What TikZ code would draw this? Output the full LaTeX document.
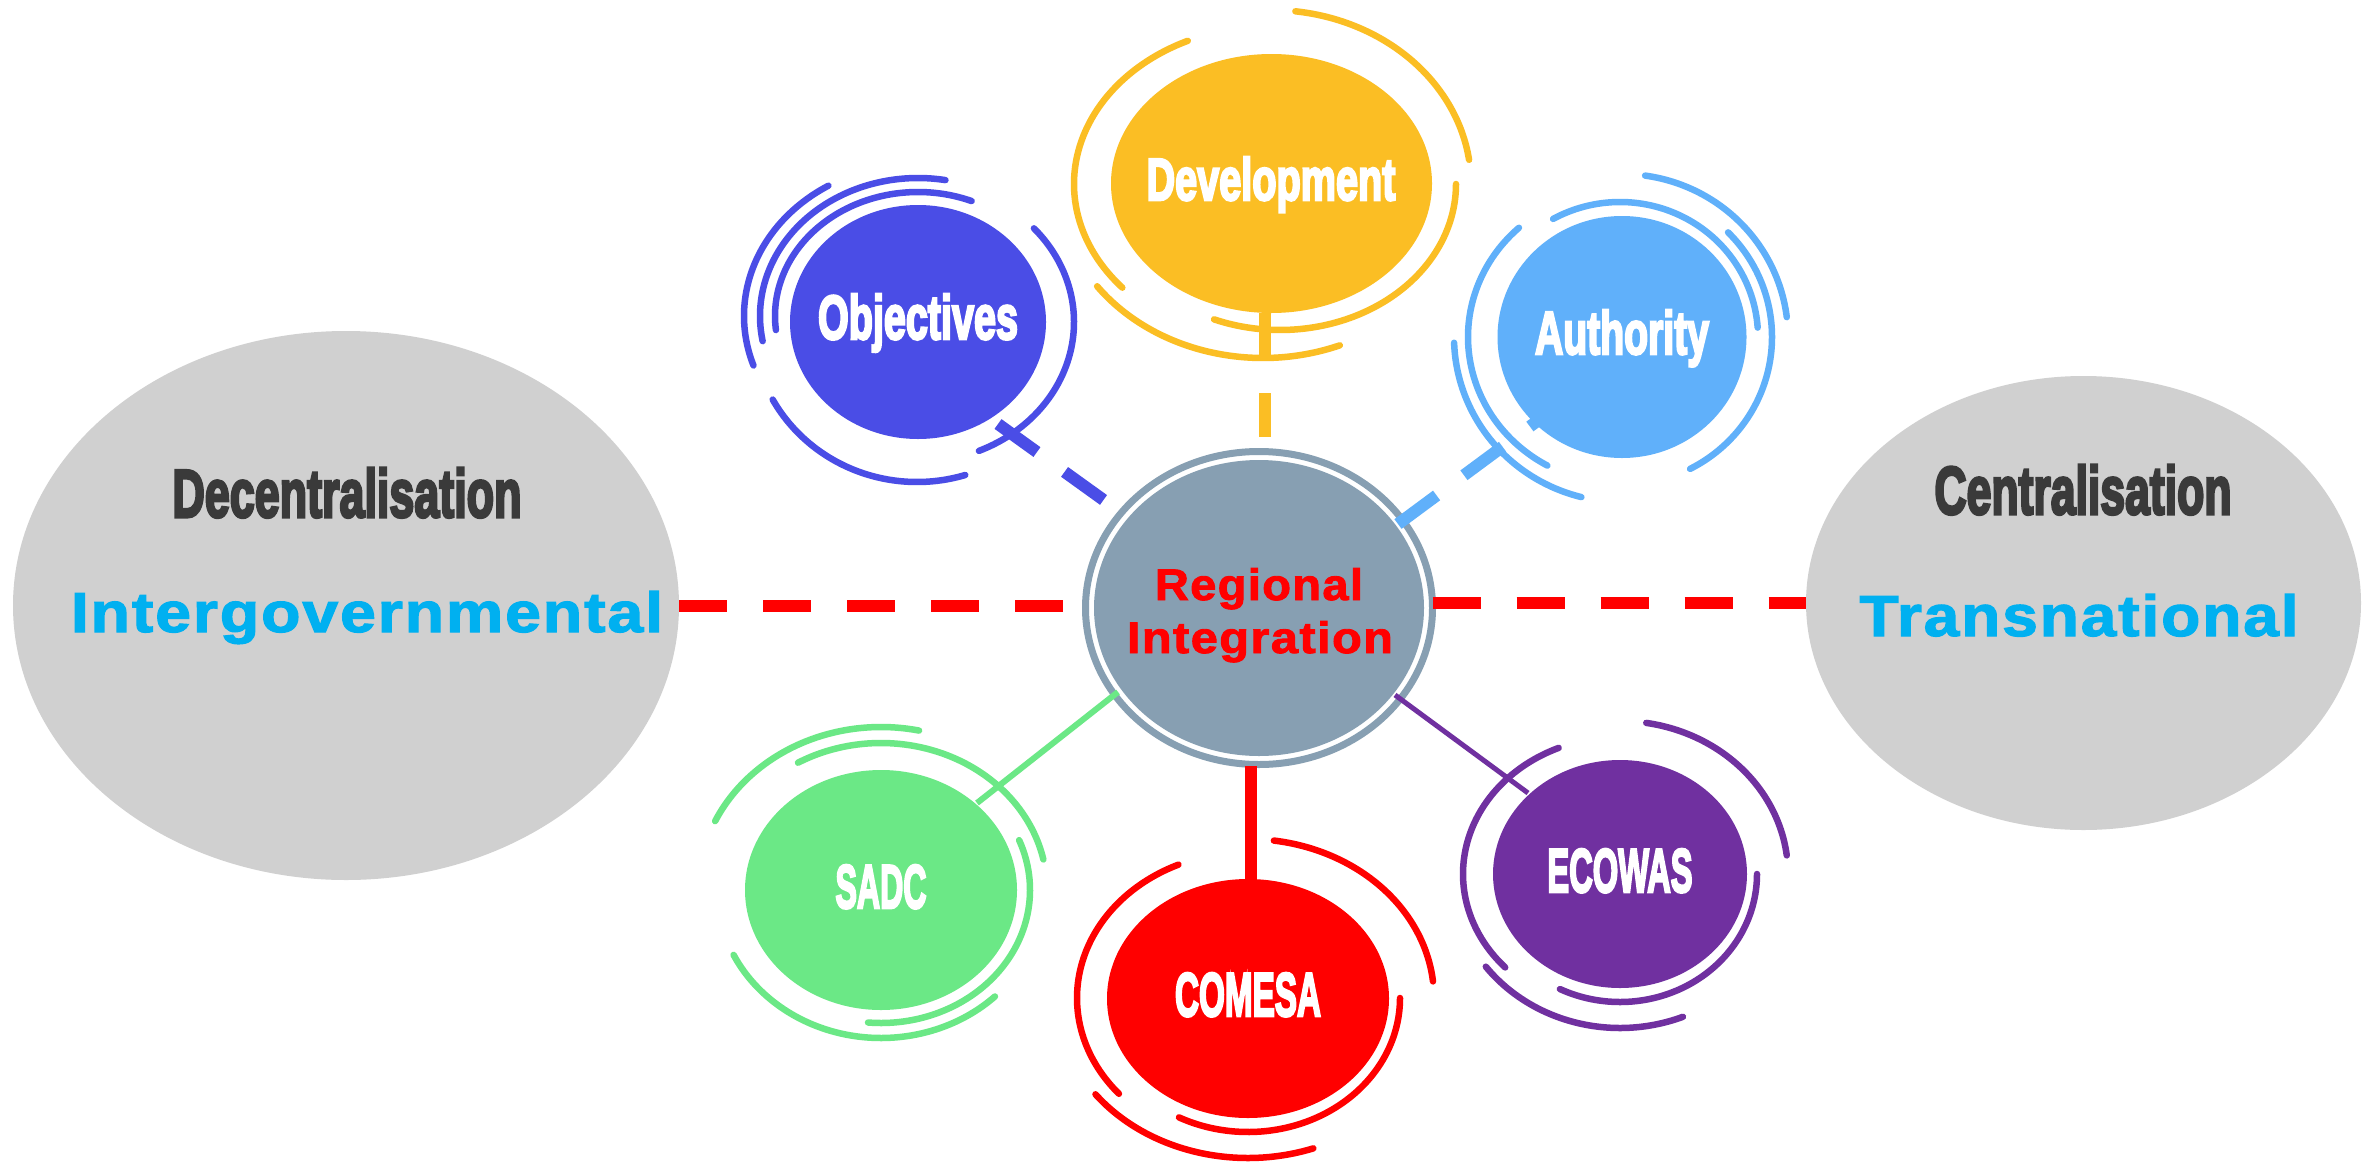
\documentclass[tikz,border=0pt]{standalone}
\usepackage{fontspec}
\usepackage{graphicx}
\usetikzlibrary{shapes.geometric}
\newfontfamily\arialfont{Liberation Sans}
\newfontfamily\spacedfont{Liberation Sans}[LetterSpace=3,BoldFeatures={FakeBold=2}]
\newfontfamily\condfont{Liberation Sans}[BoldFeatures={FakeBold=4.5}]
\definecolor{cdev}{RGB}{251,190,36}
\definecolor{cobj}{RGB}{74,77,230}
\definecolor{caut}{RGB}{96,176,250}
\definecolor{csadc}{RGB}{107,232,134}
\definecolor{ccom}{RGB}{255,0,0}
\definecolor{ceco}{RGB}{112,48,160}
\definecolor{cring}{RGB}{135,159,178}
\definecolor{cgray}{RGB}{208,208,208}
\definecolor{cdark}{RGB}{58,58,58}
\definecolor{ccyan}{RGB}{0,176,240}
\newcommand\fitbox[3]{\resizebox{#1pt}{#2pt}{#3}}
\newcommand\deco[7]{\draw[deco,#1] plot[domain=#6:#7,samples=90] ({#2+#4*cos(\x)},{#3-#5*sin(\x)});}
\begin{document}
\begin{tikzpicture}[x=1pt,y=-1pt,
  blob/.style={ellipse, inner sep=0pt, outer sep=0pt},
  deco/.style={line width=6.5pt, line cap=round},
  lbl/.style={anchor=base, inner sep=0pt, outer sep=0pt},
  reddash/.style={draw=ccom, line width=12pt, dash pattern=on 48pt off 36pt},
  spoke/.style={line width=12pt, dash pattern=on 48pt off 34pt}]
\useasboundingbox (0,0) rectangle (2380,1162);
\fill[white] (0,0) rectangle (2380,1162);

% side ellipses
\node[blob, fill=cgray, minimum width=666pt, minimum height=549pt] (left) at (346,605.5) {};
\node[blob, fill=cgray, minimum width=555pt, minimum height=454pt] (right) at (2083.5,603) {};
\node[lbl, text=cdark] (tdec) at (347,517) {\fitbox{349}{49}{\condfont\bfseries Decentralisation}};
\node[lbl, text=ccyan] (tint) at (367,632) {\fitbox{592}{41}{\spacedfont\bfseries Intergovernmental}};
\node[lbl, text=cdark] (tcen) at (2083,514) {\fitbox{297}{49}{\condfont\bfseries Centralisation}};
\node[lbl, text=ccyan] (ttra) at (2079,636) {\fitbox{439}{42}{\spacedfont\bfseries Transnational}};

% centre
\node[blob, draw=cring, line width=7pt, minimum width=347pt, minimum height=313pt] (ring) at (1259,608) {};
\node[blob, fill=cring, minimum width=330pt, minimum height=296pt] (ri) at (1259,608) {};
\node[lbl, text=ccom] (tri1) at (1259,600) {\fitbox{208}{32}{\spacedfont\bfseries Regional}};
\node[lbl, text=ccom] (tri2) at (1260,653) {\fitbox{266}{32}{\spacedfont\bfseries Integration}};

\draw[reddash] (left.east) -- (left.east -| ring.west);
\draw[reddash] (right.west -| ring.east) -- (right.west);

% satellite nodes
\node[blob, fill=cdev, minimum width=321pt, minimum height=259pt] (dev) at (1271.5,183.5) {};
\node[blob, fill=cobj, minimum width=256pt, minimum height=234pt] (obj) at (918,322) {};
\node[blob, fill=caut, minimum width=249pt, minimum height=242pt] (aut) at (1622,337) {};
\node[blob, fill=csadc, minimum width=272pt, minimum height=240pt] (sadc) at (881,890) {};
\node[blob, fill=ccom, minimum width=282pt, minimum height=239pt] (com) at (1248,998.5) {};
\node[blob, fill=ceco, minimum width=254pt, minimum height=228pt] (eco) at (1620,874) {};

\node[lbl, text=white] (tdev) at (1271,200) {\fitbox{249}{43}{\condfont\bfseries Development}};
\node[lbl, text=white] (tobj) at (918,339) {\fitbox{200}{45}{\condfont\bfseries Objectives}};
\node[lbl, text=white] (taut) at (1622,354) {\fitbox{174}{44}{\condfont\bfseries Authority}};
\node[lbl, text=white] (tsadc) at (881,908) {\fitbox{91}{43}{\condfont\bfseries SADC}};
\node[lbl, text=white] (tcom) at (1248,1016) {\fitbox{146}{43}{\condfont\bfseries COMESA}};
\node[lbl, text=white] (teco) at (1620,892) {\fitbox{145}{43}{\condfont\bfseries ECOWAS}};

% decorative arcs
\deco{cdev}{1271}{184}{200}{174}{8}{83}
\deco{cdev}{1280}{184}{176}{146}{-112}{0}
\deco{cdev}{1271}{184}{197}{158}{115}{221}
\deco{cdev}{1263}{184}{205}{174}{-144}{-68}

\deco{cobj}{918}{316}{174}{152}{121}{199}
\deco{cobj}{918}{316}{158}{138}{80}{190.5}
\deco{cobj}{918}{316}{143}{124}{68}{186.5}
\deco{cobj}{918}{322}{156}{140}{-67}{42}
\deco{cobj}{917}{322}{165}{160}{-151}{-73}

\deco{caut}{1622}{337}{166}{163}{7}{82}
\deco{caut}{1620}{337}{138}{135}{4}{119}
\deco{caut}{1622}{337}{150}{148}{-63}{45}
\deco{caut}{1622}{337}{154}{147}{132}{241}
\deco{caut}{1622}{337}{168}{165}{182}{256}

\deco{ceco}{1620}{874}{168}{153}{7}{81}
\deco{ceco}{1620}{874}{137}{128}{-116}{0}
\deco{ceco}{1620}{874}{157}{137}{113}{223}
\deco{ceco}{1620}{874}{168}{154}{-143}{-68}

\deco{ccom}{1248}{998}{186}{159}{6}{82}
\deco{ccom}{1248}{998}{152}{134}{-117}{0}
\deco{ccom}{1248}{998}{171}{146}{114}{221}
\deco{ccom}{1248}{998}{191}{160}{-143}{-70}

\deco{csadc}{881}{890}{183}{163}{78}{155}
\deco{csadc}{881}{890}{166}{147}{12}{120}
\deco{csadc}{881}{890}{149}{133}{-95}{22}
\deco{csadc}{881}{890}{164}{148}{-154}{-46}

% connectors
\coordinate (devA) at (1265,313);
\coordinate (devB) at (1265,437);
\draw[cdev, line width=12pt, dash pattern=on 44pt off 36pt] (devA) -- (devB);
\coordinate (objA) at (998,424);
\coordinate (objB) at (1105,501);
\draw[spoke, cobj] (objA) -- (objB);
\coordinate (autA) at (1398,524);
\coordinate (autB) at (1540,419);
\draw[spoke, caut] (autA) -- (autB);
\coordinate (sadcA) at (1118,692);
\coordinate (sadcB) at (977,803);
\draw[csadc, line width=6pt] (sadcA) -- (sadcB);
\coordinate (comA) at (1251,766);
\coordinate (comB) at (1251,879);
\draw[ccom, line width=12pt] (comA) -- (comB);
\coordinate (ecoA) at (1395,695);
\coordinate (ecoB) at (1528,793);
\draw[ceco, line width=5pt] (ecoA) -- (ecoB);
\end{tikzpicture}
\end{document}
